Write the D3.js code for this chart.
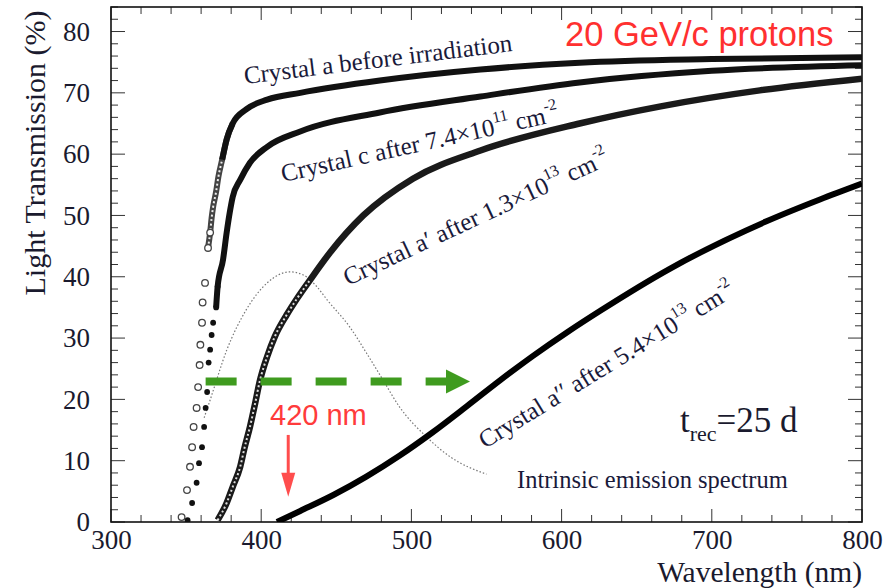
<!DOCTYPE html>
<html><head><meta charset="utf-8">
<script src="https://cdn.jsdelivr.net/npm/d3@7"></script>
<style>body{margin:0;background:#fff}</style>
</head><body><svg id="c" width="892" height="588"></svg>
<script>
// ---- data (wavelength nm, transmission %) ----
const xTicks = [300, 400, 500, 600, 700, 800];
const yTicks = [0, 10, 20, 30, 40, 50, 60, 70, 80];
const crystalA = [[347,0.8],[350.6,5.2],[352.6,9],[354,12.2],[355,15.5],[357,18.6],[358,22],[359,25.6],[359.5,28.9],[360.6,32.5],[361,35.8],[362.6,39],[364.6,44.7],[366,47.2],[367,49.6],[368,51.4],[370,53.9],[371.5,56.3],[374,59.1],[377,62.4],[381,65],[390,67.3],[404,68.9],[426,70],[479,72],[546,73.8],[612,74.9],[700,75.5],[800,75.8]];
const crystalC = [[351,0.3],[354,3.1],[357,6.4],[358.6,9.6],[360.6,12.2],[362,15.5],[363,18.6],[364,21.2],[365,26],[366,28.1],[367,30.5],[368,32.5],[370,35],[371,38.4],[374.6,42.8],[377,47.2],[379,50.4],[381,53],[386,55.8],[392.5,58.6],[404,61.2],[426,63.7],[479,66.8],[546,69.4],[612,71.7],[700,73.6],[800,74.5]];
const crystalA1 = [[371,0.3],[377,3.1],[381,5.7],[386,9],[389,12.2],[392.5,15.5],[396,19.4],[399,22.9],[404,27],[409,30.2],[417,33.8],[424,36.5],[432,39.3],[446,44],[468,50],[501,56],[546,60.6],[612,65],[666,67.8],[732,70.4],[800,72.3]];
const crystalA2 = [[410.5,0],[426,1.8],[448,4.4],[470,7.4],[492,10.8],[514,14.6],[537,18.9],[559,23.1],[581,27.1],[604,31],[626,34.5],[672,41.3],[736,49],[772,52.6],[800,55.2]];
const emission = [[362,17],[366,19.9],[377,28],[390,34.6],[404,39],[419,40.8],[428,40.3],[437,38.4],[444,36.2],[459,31.8],[470,27.6],[481,23.2],[492,18.8],[510,13.9],[526,10.6],[550,7.8]];

const svg = d3.select('#c');
const L = 111, R = 862, T = 7, B = 522;
const x = d3.scaleLinear().domain([300, 800]).range([L, R]);
const y = d3.scaleLinear().domain([0, 84]).range([B, T]);
const serif = "Liberation Serif";
const sans = "Liberation Sans";
const ink = '#1a1a2e';

svg.append('defs').append('clipPath').attr('id','clip')
  .append('rect').attr('x',L).attr('y',T).attr('width',R-L).attr('height',B-T);

// ---- ticks (inward, all four sides) ----
const tg = svg.append('g').attr('stroke','#333').attr('stroke-width',1);
const minorX = d3.range(300, 801, 20), minorY = d3.range(0, 85, 2);
minorX.forEach(v => {
  const major = v % 100 === 0, len = major ? 13 : 7;
  tg.append('line').attr('x1',x(v)).attr('x2',x(v)).attr('y1',B).attr('y2',B-len);
  tg.append('line').attr('x1',x(v)).attr('x2',x(v)).attr('y1',T).attr('y2',T+len);
});
minorY.forEach(v => {
  const major = v % 10 === 0, len = major ? 14 : 7;
  tg.append('line').attr('y1',y(v)).attr('y2',y(v)).attr('x1',L).attr('x2',L+len);
  tg.append('line').attr('y1',y(v)).attr('y2',y(v)).attr('x1',R).attr('x2',R-len);
});
svg.append('rect').attr('x',L).attr('y',T).attr('width',R-L).attr('height',B-T)
  .attr('fill','none').attr('stroke','#111').attr('stroke-width',1.6);

// tick labels via d3 axes (lines hidden)
const xa = svg.append('g').attr('transform',`translate(0,${B})`)
  .call(d3.axisBottom(x).tickValues(xTicks).tickSize(0).tickPadding(8).tickFormat(d3.format('d')));
const ya = svg.append('g').attr('transform',`translate(${L},0)`)
  .call(d3.axisLeft(y).tickValues(yTicks).tickSize(0).tickPadding(21).tickFormat(d3.format('d')));
[xa, ya].forEach(a => {
  a.attr('font-family', null).attr('font-size', null);
  a.select('.domain').remove();
  a.selectAll('text').style('font-family',serif).style('font-size','27px').attr('fill',ink);
});

// axis titles
svg.append('text').attr('x',R).attr('y',581.5).attr('text-anchor','end')
  .style('font-family',serif).style('font-size','29.5px').attr('fill',ink).text('Wavelength (nm)');
svg.append('text').attr('transform','translate(45,153) rotate(-90)').attr('text-anchor','middle')
  .style('font-family',serif).style('font-size','30px').attr('fill',ink).text('Light Transmission (%)');

// ---- curves ----
const plot = svg.append('g').attr('clip-path','url(#clip)');
const line = d3.line().x(d => x(d[0])).y(d => y(d[1])).curve(d3.curveMonotoneX);

// emission spectrum (dotted)
plot.append('path').datum(emission).attr('d',line).attr('fill','none')
  .attr('stroke','#777').attr('stroke-width',1.2).attr('stroke-dasharray','1.5,2');

// crystal a: dense open circles, then solid
plot.append('path').datum(crystalA.filter(d => d[1] >= 44 && d[1] <= 66)).attr('d',line)
  .attr('fill','none').attr('stroke','#444').attr('stroke-width',6);
plot.append('path').datum(crystalA.filter(d => d[1] >= 44 && d[1] <= 63)).attr('d',line)
  .attr('fill','none').attr('stroke','#eee').attr('stroke-width',2).attr('stroke-dasharray','2,2.5');
plot.append('path').datum(crystalA.filter(d => d[1] >= 59)).attr('d',line)
  .attr('fill','none').attr('stroke','#111').attr('stroke-width',6);
plot.selectAll('.ma').data(crystalA.filter(d => d[1] < 48)).join('circle')
  .attr('cx',d => x(d[0])).attr('cy',d => y(d[1])).attr('r',3.3)
  .attr('fill','#fff').attr('stroke','#444').attr('stroke-width',1.3);

// crystal c
plot.append('path').datum(crystalC.filter(d => d[1] >= 35)).attr('d',line)
  .attr('fill','none').attr('stroke','#111').attr('stroke-width',6);
plot.selectAll('.mc').data(crystalC.filter(d => d[1] < 40)).join('circle')
  .attr('cx',d => x(d[0])).attr('cy',d => y(d[1])).attr('r',2.9)
  .attr('fill','#111');

// crystal a'
plot.append('path').datum(crystalA1).attr('d',line)
  .attr('fill','none').attr('stroke','#1a1a1a').attr('stroke-width',6.5);
plot.append('path').datum(crystalA1.filter(d => d[1] <= 40)).attr('d',line)
  .attr('fill','none').attr('stroke','#ddd').attr('stroke-width',2).attr('stroke-dasharray','2,2.5');

// crystal a''
plot.append('path').datum(crystalA2).attr('d',line)
  .attr('fill','none').attr('stroke','#000').attr('stroke-width',6);

// ---- annotations ----
const gY = y(22.9), gx0 = x(363), gx1 = x(539);
svg.append('line').attr('x1',gx0).attr('x2',gx1-22).attr('y1',gY).attr('y2',gY)
  .attr('stroke','#3f9b1f').attr('stroke-width',8).attr('stroke-dasharray','31,24');
svg.append('path').attr('d',`M${gx1},${gY} L${gx1-24},${gY-12} L${gx1-24},${gY+12} Z`).attr('fill','#3f9b1f');

const rX = x(418), rY0 = y(14.2), rY1 = y(4.1);
svg.append('line').attr('x1',rX).attr('x2',rX).attr('y1',rY0).attr('y2',rY1-20)
  .attr('stroke','#ff4d4d').attr('stroke-width',3);
svg.append('path').attr('d',`M${rX},${rY1} L${rX-7},${rY1-24} L${rX+7},${rY1-24} Z`).attr('fill','#ff4d4d');
svg.append('text').attr('x',270).attr('y',425).style('font-family',sans).style('font-size','29px')
  .attr('fill','#ff3b3b').text('420 nm');

svg.append('text').attr('x',565).attr('y',46).style('font-family',sans).style('font-size','34.5px')
  .attr('fill','#ff3030').text('20 GeV/c protons');

const tr = svg.append('text').attr('x',680).attr('y',432).style('font-family',serif).style('font-size','35px').attr('fill',ink);
tr.append('tspan').text('t');
tr.append('tspan').style('font-size','22px').attr('dy',9).text('rec');
tr.append('tspan').attr('dy',-9).text('=25 d');

svg.append('text').attr('x',517).attr('y',488).style('font-family',serif).style('font-size','24.5px')
  .attr('fill','#1a1a3a').text('Intrinsic emission spectrum');

// curve labels
function label(px, py, ang, parts) {
  const t = svg.append('text').attr('transform',`translate(${px},${py}) rotate(${ang})`)
    .style('font-family',serif).style('font-size','25px').attr('fill','#1a1a3a');
  parts.forEach(p => {
    const s = t.append('tspan').text(p.t);
    if (p.sup) s.style('font-size','16px').attr('dy',-12);
    if (p.back) s.attr('dy',12);
  });
}
label(245, 84, -7, [{t:'Crystal a before irradiation'}]);
label(283, 182, -12.5, [{t:'Crystal c after 7.4×10'},{t:'11',sup:1},{t:'  cm',back:1},{t:'-2',sup:1}]);
label(348, 286, -25, [{t:'Crystal a′ after 1.3×10'},{t:'13',sup:1},{t:'  cm',back:1},{t:'-2',sup:1}]);
label(485, 449, -31.5, [{t:'Crystal a′′ after 5.4×10'},{t:'13',sup:1},{t:'  cm',back:1},{t:'-2',sup:1}]);
</script></body></html>
